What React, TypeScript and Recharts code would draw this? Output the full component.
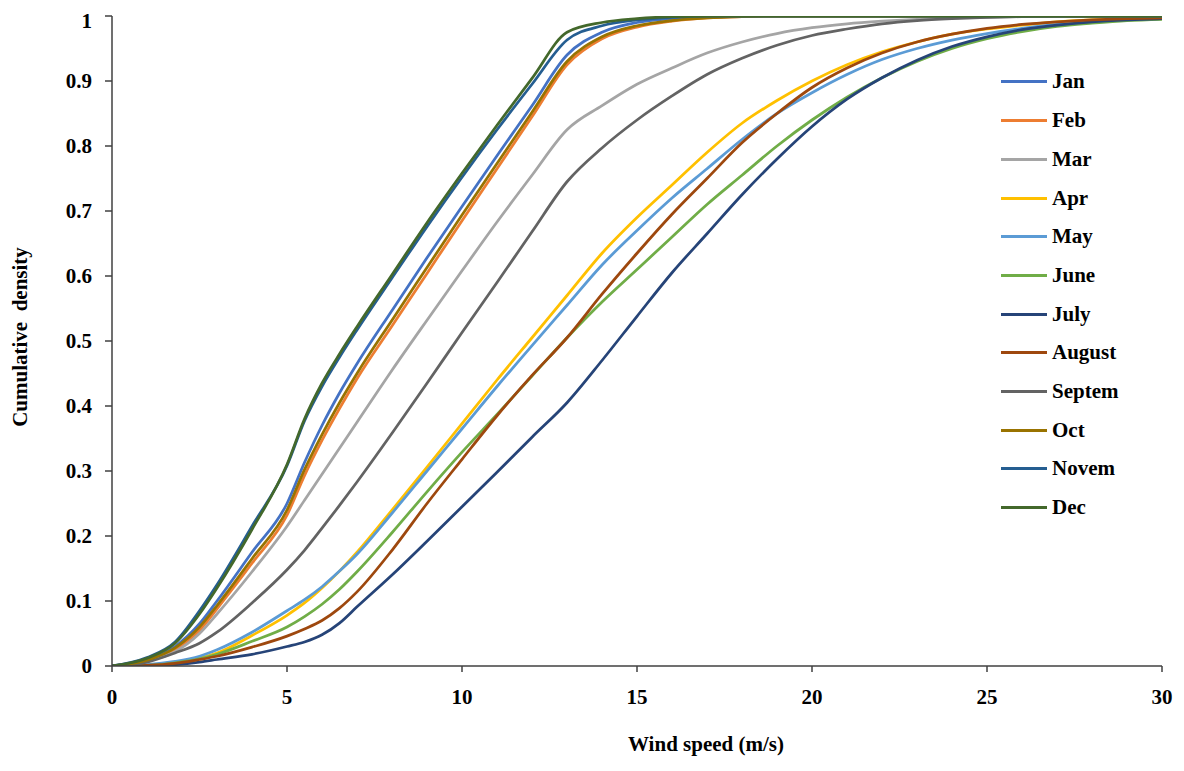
import React from 'react';
import { LineChart, Line, XAxis, YAxis } from 'recharts';

const windSpeed = [0, 1, 1.8, 2.5, 3, 4, 5, 5.5, 6, 6.5, 7, 8, 9, 10, 11, 12, 13, 14, 15, 16, 17, 18, 19, 20, 21, 22, 23, 24, 25, 26, 27, 28, 29, 30];

const jan = [0, 0.01, 0.03, 0.065, 0.1, 0.175, 0.25, 0.313, 0.37, 0.42, 0.465, 0.547, 0.628, 0.707, 0.785, 0.862, 0.94, 0.975, 0.99, 0.996, 0.999, 1, 1, 1, 1, 1, 1, 1, 1, 1, 1, 1, 1, 1];
const feb = [0, 0.008, 0.025, 0.055, 0.088, 0.158, 0.232, 0.293, 0.347, 0.396, 0.442, 0.523, 0.604, 0.685, 0.765, 0.845, 0.925, 0.965, 0.983, 0.992, 0.997, 0.999, 1, 1, 1, 1, 1, 1, 1, 1, 1, 1, 1, 1];
const mar = [0, 0.008, 0.022, 0.05, 0.08, 0.145, 0.215, 0.255, 0.295, 0.335, 0.375, 0.455, 0.532, 0.608, 0.683, 0.755, 0.825, 0.862, 0.895, 0.92, 0.943, 0.96, 0.973, 0.982, 0.988, 0.992, 0.995, 0.997, 0.998, 0.999, 1, 1, 1, 1];
const apr = [0, 0.001, 0.005, 0.012, 0.02, 0.047, 0.078, 0.097, 0.12, 0.146, 0.175, 0.24, 0.306, 0.373, 0.44, 0.505, 0.57, 0.635, 0.69, 0.74, 0.79, 0.835, 0.87, 0.9, 0.925, 0.945, 0.96, 0.972, 0.98, 0.986, 0.991, 0.994, 0.996, 0.997];
const may = [0, 0.002, 0.007, 0.015, 0.025, 0.052, 0.085, 0.102, 0.122, 0.146, 0.172, 0.235, 0.3, 0.365, 0.43, 0.493, 0.555, 0.617, 0.67, 0.72, 0.765, 0.81, 0.85, 0.882, 0.91, 0.933, 0.95, 0.963, 0.973, 0.981, 0.987, 0.991, 0.994, 0.996];
const june = [0, 0.001, 0.005, 0.011, 0.018, 0.038, 0.06, 0.076, 0.095, 0.118, 0.145, 0.205, 0.268, 0.329, 0.387, 0.446, 0.505, 0.56, 0.61, 0.66, 0.71, 0.755, 0.8, 0.84, 0.875, 0.905, 0.93, 0.95, 0.965, 0.976, 0.984, 0.989, 0.993, 0.995];
const july = [0, 0, 0.002, 0.006, 0.01, 0.018, 0.03, 0.037, 0.048, 0.066, 0.091, 0.14, 0.192, 0.245, 0.298, 0.352, 0.405, 0.47, 0.538, 0.605, 0.665, 0.725, 0.78, 0.83, 0.872, 0.905, 0.932, 0.953, 0.968, 0.979, 0.986, 0.991, 0.994, 0.996];
const august = [0, 0.001, 0.004, 0.01, 0.015, 0.029, 0.046, 0.057, 0.07, 0.089, 0.114, 0.178, 0.25, 0.318, 0.385, 0.447, 0.505, 0.572, 0.635, 0.695, 0.75, 0.805, 0.85, 0.89, 0.92, 0.943, 0.96, 0.972, 0.981, 0.987, 0.991, 0.994, 0.996, 0.997];
const septem = [0, 0.006, 0.02, 0.035, 0.052, 0.097, 0.148, 0.178, 0.212, 0.247, 0.283, 0.358, 0.435, 0.513, 0.59, 0.668, 0.745, 0.797, 0.84, 0.877, 0.91, 0.935, 0.955, 0.97, 0.98, 0.988, 0.993, 0.996, 0.998, 0.999, 1, 1, 1, 1];
const oct = [0, 0.009, 0.028, 0.06, 0.093, 0.165, 0.24, 0.302, 0.356, 0.405, 0.45, 0.532, 0.613, 0.694, 0.773, 0.852, 0.93, 0.968, 0.985, 0.993, 0.997, 0.999, 1, 1, 1, 1, 1, 1, 1, 1, 1, 1, 1, 1];
const novem = [0, 0.013, 0.037, 0.085, 0.125, 0.215, 0.308, 0.377, 0.43, 0.475, 0.517, 0.597, 0.676, 0.752, 0.825, 0.895, 0.963, 0.985, 0.994, 0.998, 1, 1, 1, 1, 1, 1, 1, 1, 1, 1, 1, 1, 1, 1];
const dec = [0, 0.012, 0.035, 0.08, 0.12, 0.21, 0.31, 0.38, 0.435, 0.48, 0.522, 0.602, 0.682, 0.758, 0.832, 0.904, 0.975, 0.99, 0.996, 0.999, 1, 1, 1, 1, 1, 1, 1, 1, 1, 1, 1, 1, 1, 1];

const seriesNames = ['Jan', 'Feb', 'Mar', 'Apr', 'May', 'June', 'July', 'August', 'Septem', 'Oct', 'Novem', 'Dec'];
const seriesValues = [jan, feb, mar, apr, may, june, july, august, septem, oct, novem, dec];
const seriesColors = ['#4472C4', '#ED7D31', '#A5A5A5', '#FFC000', '#5B9BD5', '#70AD47', '#264478', '#9E480E', '#636363', '#997300', '#255E91', '#43682B'];

const xTicks = [0, 5, 10, 15, 20, 25, 30];
const yTicks = [0, 0.1, 0.2, 0.3, 0.4, 0.5, 0.6, 0.7, 0.8, 0.9, 1];

const data = windSpeed.map((x, i) => {
  const row: Record<string, number> = { x };
  seriesNames.forEach((n, k) => {
    row[n] = seriesValues[k][i];
  });
  return row;
});

const FONT = '"Liberation Serif", "Times New Roman", serif';
const AXIS = '#404040';
const tickStyle = { fontSize: 21, fontWeight: 'bold', fontFamily: FONT, fill: '#000' };

const fmtY = (v: number) => (v === 0 || v === 1 ? String(v) : v.toFixed(1));

export default function App() {
  return (
    <div style={{ position: 'relative', width: 1170, height: 755 }}>
      <LineChart width={1170} height={755} data={data} margin={{ top: 8, right: 16, left: 0, bottom: 0 }}>
        <XAxis
          dataKey="x"
          type="number"
          domain={[0, 30]}
          ticks={xTicks}
          allowDataOverflow
          height={97}
          tickSize={6}
          tickMargin={17}
          axisLine={{ stroke: AXIS, strokeWidth: 1.5 }}
          tickLine={{ stroke: AXIS, strokeWidth: 1.5 }}
          tick={tickStyle}
          label={{
            content: (props: any) => {
              const vb = props.viewBox || {};
              return (
                <text
                  x={vb.x + vb.width / 2 + 69}
                  y={vb.y + vb.height - 12}
                  textAnchor="middle"
                  fontFamily={FONT}
                  fontWeight="bold"
                  fontSize={21}
                  fill="#000"
                >
                  Wind speed (m/s)
                </text>
              );
            },
          }}
        />
        <XAxis xAxisId="top" orientation="top" type="number" domain={[0, 30]} height={0} tick={false} tickLine={false} axisLine={{ stroke: AXIS, strokeWidth: 1.5 }} />
        <YAxis
          type="number"
          domain={[0, 1]}
          ticks={yTicks}
          allowDataOverflow
          width={104}
          tickSize={7}
          tickMargin={13}
          tickFormatter={fmtY}
          axisLine={{ stroke: AXIS, strokeWidth: 1.5 }}
          tickLine={{ stroke: AXIS, strokeWidth: 1.5 }}
          tick={tickStyle}
          label={{
            content: (props: any) => {
              const vb = props.viewBox || {};
              const cx = vb.x + 12;
              const cy = vb.y + vb.height / 2 - 4;
              return (
                <text
                  x={cx}
                  y={cy}
                  transform={`rotate(-90 ${cx} ${cy})`}
                  textAnchor="middle"
                  dominantBaseline="central"
                  fontFamily={FONT}
                  fontWeight="bold"
                  fontSize={21}
                  fill="#000"
                  style={{ whiteSpace: 'pre' }}
                >
                  {'Cumulative  density'}
                </text>
              );
            },
          }}
        />
        <YAxis yAxisId="right" orientation="right" type="number" domain={[0, 1]} width={0} tick={false} tickLine={false} axisLine={{ stroke: AXIS, strokeWidth: 1.5 }} />
        {seriesNames.map((n, k) => (
          <Line
            key={n}
            dataKey={n}
            type="monotone"
            stroke={seriesColors[k]}
            strokeWidth={2.75}
            dot={false}
            activeDot={false}
            isAnimationActive={false}
          />
        ))}
      </LineChart>
      <div style={{ position: 'absolute', left: 993, top: 54.6 }}>
        {seriesNames.map((n, k) => (
          <div key={n} style={{ display: 'flex', alignItems: 'center', height: 38.7 }}>
            <div style={{ width: 46, height: 3, background: seriesColors[k], marginRight: 5 }} />
            <span style={{ fontFamily: FONT, fontWeight: 'bold', fontSize: 21, color: '#000', lineHeight: 1 }}>{n}</span>
          </div>
        ))}
      </div>
    </div>
  );
}
